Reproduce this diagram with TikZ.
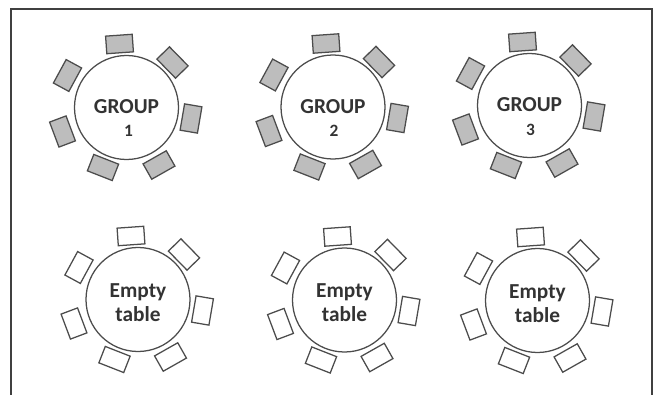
\documentclass[tikz,border=0pt]{standalone}
\usepackage{fontspec}
\setmainfont{Carlito}
\begin{document}
\begin{tikzpicture}[x=0.75pt,y=-0.75pt,
  outline/.style={draw=black!70,line width=0.95pt},
  table/.style={outline,circle,minimum size=78pt,inner sep=0pt},
  chair/.style={outline,rectangle,minimum width=20pt,minimum height=13.2pt,inner sep=0pt},
  taken/.style={chair,fill=black!26},
  free/.style={chair,fill=white},
  label/.style={anchor=base,inner sep=0pt,text=black!80,font=\fontsize{16}{18}\selectfont\bfseries},
  digit/.style={label,font=\fontsize{13}{15}\selectfont\bfseries}]
\useasboundingbox (0,0) rectangle (659,395);
% frame open at the bottom
\draw[black!75,line width=0.8pt] (11,395) -- (11,9) -- (652,9) -- (652,395);

% tables: name / centre x / centre y / chair style
\foreach \n/\cx/\cy/\s in {g1/126.5/107.5/taken, g2/333/107/taken, g3/529.5/105.5/taken,
                          e1/138/299.5/free, e2/344.5/300/free, e3/537.5/300.5/free}{
  \node[table] (\n) at (\cx,\cy) {};
  \foreach \dx/\dy/\r [count=\i] in {-7/-63.5/4, 46/-45/-45.6, 64.5/11/80.3,
        32.5/57.5/29.5, -23.5/60/-21.4, -64/24/110.6, -59/-32/61.5}
    \node[\s,rotate=\r] (\n c\i) at (\cx+\dx,\cy+\dy) {};
}

% labels
\node[label] (g1a) at ([yshift=-6.5*0.75pt]g1.center) {GROUP};
\node[digit] (g1b) at ([xshift=2*0.75pt,yshift=-29.5*0.75pt]g1.center) {1};
\node[label] (g2a) at ([yshift=-6.5*0.75pt]g2.center) {GROUP};
\node[digit] (g2b) at ([xshift=1*0.75pt,yshift=-29.5*0.75pt]g2.center) {2};
\node[label] (g3a) at ([yshift=-6.5*0.75pt]g3.center) {GROUP};
\node[digit] (g3b) at ([xshift=1*0.75pt,yshift=-30.5*0.75pt]g3.center) {3};
\foreach \n in {e1,e2,e3}{
  \node[label] (\n a) at ([yshift=2.5*0.75pt]\n.center) {Empty};
  \node[label] (\n b) at ([yshift=-21.5*0.75pt]\n.center) {table};
}
\end{tikzpicture}
\end{document}
